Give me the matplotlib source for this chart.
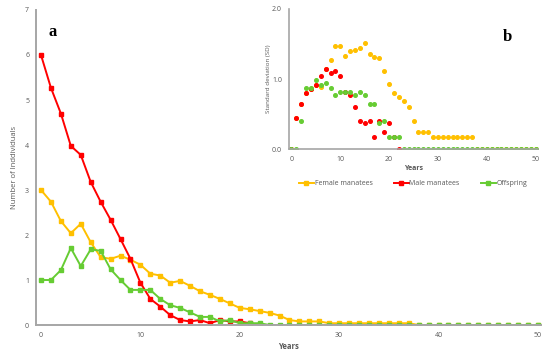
import matplotlib
matplotlib.use("Agg")
import matplotlib.pyplot as plt
import numpy as np

# ---------- data ----------
years = np.arange(0, 51)

# (a) mean number of individuals
female_mean = [3.00, 2.74, 2.31, 2.04, 2.25, 1.84, 1.51, 1.47, 1.54, 1.45,
               1.34, 1.14, 1.10, 0.94, 0.98, 0.87, 0.75, 0.67, 0.58, 0.48,
               0.38, 0.35, 0.31, 0.27, 0.21, 0.11, 0.08, 0.08, 0.08, 0.04,
               0.04, 0.04, 0.04, 0.04, 0.04, 0.04, 0.04, 0.04] + [0.0] * 13
male_mean = [6.00, 5.27, 4.70, 3.98, 3.78, 3.18, 2.74, 2.34, 1.91, 1.47,
             0.94, 0.58, 0.41, 0.22, 0.11, 0.08, 0.11, 0.04, 0.11, 0.08,
             0.08, 0.04, 0.00]
offspring_mean = [1.00, 1.00, 1.22, 1.71, 1.31, 1.68, 1.65, 1.24, 1.00, 0.78,
                  0.78, 0.78, 0.58, 0.44, 0.38, 0.28, 0.18, 0.18, 0.08, 0.11,
                  0.04, 0.04, 0.04] + [0.0] * 28

# (b) standard deviation
female_sd = [0.00, 0.45, 0.65, 0.80, 0.86, 0.91, 0.89, 1.15, 1.28, 1.47,
             1.47, 1.33, 1.40, 1.41, 1.45, 1.52, 1.36, 1.32, 1.30, 1.11,
             0.93, 0.80, 0.75, 0.69, 0.61, 0.40, 0.25, 0.25, 0.25, 0.18,
             0.18, 0.18, 0.18, 0.18, 0.18, 0.18, 0.18, 0.18] + [0.0] * 13
male_sd = [0.00, 0.45, 0.65, 0.80, 0.86, 0.91, 1.05, 1.15, 1.09, 1.11,
           1.05, 0.82, 0.77, 0.61, 0.40, 0.37, 0.40, 0.18, 0.40, 0.25,
           0.37, 0.18, 0.00]
offspring_sd = [0.00, 0.00, 0.41, 0.88, 0.88, 0.99, 0.92, 0.94, 0.87, 0.77,
                0.82, 0.82, 0.82, 0.77, 0.81, 0.78, 0.64, 0.64, 0.37, 0.40,
                0.18, 0.18, 0.18] + [0.0] * 28

labels = ["Female manatees", "Male manatees", "Offspring"]
colors = ["#ffc000", "#ff0000", "#66cc33"]
axis_grey = "#a6a6a6"
text_grey = "#595959"

plt.rcParams["font.family"] = ["Open Sans", "DejaVu Sans"]

fig = plt.figure(figsize=(5.5, 3.57), dpi=100)

# ---------- panel a ----------
ax = fig.add_axes([0.0655, 0.0896, 0.918, 0.8824])
for vals, c, lab in zip([female_mean, male_mean, offspring_mean], colors, labels):
    ax.plot(years[:len(vals)], vals, color=c, lw=1.4, marker="s",
            markersize=2.2, label=lab)
ax.set_xlim(-0.5, 50.3)
ax.set_ylim(0, 7)
ax.set_xticks(range(0, 51, 10))
ax.set_yticks(range(0, 8))
ax.set_xlabel("Years", fontsize=5.5, color=text_grey, fontweight="bold",
              labelpad=2)
ax.set_ylabel("Number of Inddividuals", fontsize=5.5, color=text_grey,
              labelpad=5)
ax.text(0.025, 0.955, "a", transform=ax.transAxes, fontsize=12,
        fontweight="bold", family="Liberation Serif", va="top")

# ---------- panel b (inset) ----------
ins = fig.add_axes([0.5255, 0.5818, 0.4527, 0.393])
for vals, c in zip([female_sd, male_sd, offspring_sd], colors):
    ins.plot(years[:len(vals)], vals, linestyle="none", marker="o",
             markersize=2.6, color=c)
ins.set_xlim(-0.5, 50.5)
ins.set_ylim(0, 2)
ins.set_xticks(range(0, 51, 10))
ins.set_yticks([0, 1, 2])
ins.set_yticklabels(["0.0", "1.0", "2.0"])
ins.set_xlabel("Years", fontsize=5, color=text_grey, fontweight="bold",
               labelpad=1)
ins.set_ylabel("Standard deviation (SD)", fontsize=4.5, color=text_grey,
               labelpad=1)
ins.text(0.86, 0.8, "b", transform=ins.transAxes, fontsize=12,
         fontweight="bold", family="Liberation Serif", va="center")

for a, lw in [(ax, 1.4), (ins, 1.2)]:
    for s in ["top", "right"]:
        a.spines[s].set_visible(False)
    for s in ["left", "bottom"]:
        a.spines[s].set_color(axis_grey)
        a.spines[s].set_linewidth(lw)
    a.tick_params(length=0, labelsize=5, labelcolor=text_grey, pad=5)
    a.patch.set_alpha(0)

fig.legend(*ax.get_legend_handles_labels(), loc="center",
           bbox_to_anchor=(0.751, 0.4846), ncol=3, frameon=False,
           fontsize=5, handlelength=2.2, handletextpad=0.1, columnspacing=3,
           labelcolor=text_grey)

fig.savefig("out.png", dpi=100)
